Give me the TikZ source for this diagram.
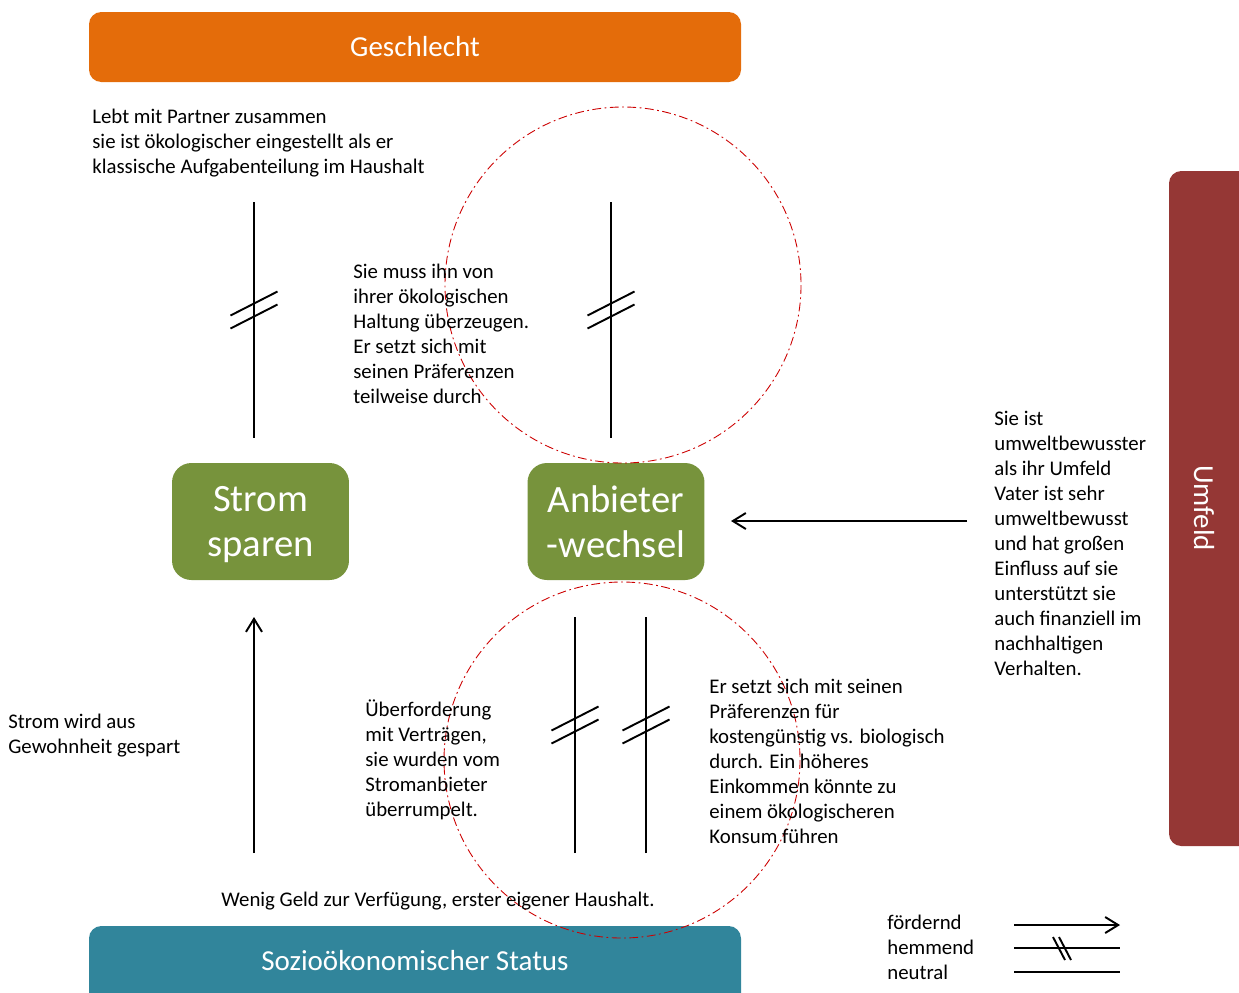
\documentclass[tikz,border=0pt]{standalone}
\usepackage{fontspec}
\setmainfont{Carlito}
\usetikzlibrary{arrows.meta}
\definecolor{cOrange}{RGB}{228,108,10}
\definecolor{cGreen}{RGB}{119,147,60}
\definecolor{cTeal}{RGB}{49,133,155}
\definecolor{cRed}{RGB}{149,55,53}
\tikzset{
	factor/.style ={rectangle, rounded corners=7pt, text=white, inner sep=0pt, font=\fontsize{16.5}{19}\selectfont},
	goal/.style   ={rectangle, rounded corners=11pt, fill=cGreen, text=white, align=center, inner sep=0pt, text depth=0pt,
	                minimum width=3.54cm, minimum height=2.34cm, font=\fontsize{22}{25.5}\selectfont},
	note/.style   ={anchor=base west, align=left, inner sep=0pt, font=\fontsize{11.85}{14.2}\selectfont},
	weg/.style    ={line width=1.1pt},
	foerd/.style  ={weg, -{Straight Barb[length=2.6mm, width=3.2mm, line width=1.1pt]}},
	zone/.style   ={red!80!black, line width=0.5pt, dash pattern=on 5pt off 2pt on 1pt off 2pt},
}
% hemmend mark: two slanted strokes across a line
\newcommand{\hemm}[2]{%
	\draw[weg] ({#1-23.5},{#2+5.5}) -- ({#1+23.5},{#2-18.5});
	\draw[weg] ({#1-23.5},{#2+18.5}) -- ({#1+23.5},{#2-5.5});}
\begin{document}
\begin{tikzpicture}[x=0.02cm, y=-0.02cm]
	\clip (0,0) rectangle (1239,992);
	% ---------- factor boxes ----------
	\fill[cOrange, rounded corners=7pt] (89,12) rectangle (741,82);
	\node[factor] (geschlecht) at (415,47) {Geschlecht};
	\fill[cTeal, rounded corners=7pt] (89,926) rectangle (741,1010);
	\node[factor] (status) at (415,961) {Sozioökonomischer Status};
	\fill[cRed, rounded corners=7pt] (1169,171) rectangle (1260,846);
	\node[factor, rotate=-90] (umfeld) at (1204,508) {Umfeld};
	% ---------- goals ----------
	\node[goal] (strom) at (260.5,521.5) {Strom\\sparen};
	\node[goal] (anbieter) at (616,521.5) {Anbieter\\-wechsel};
	% ---------- zones ----------
	\draw[zone] (623,285) circle (178);
	\draw[zone] (622,760) circle (178);
	% ---------- connectors ----------
	\coordinate (sTa) at (254,202);  \coordinate (sTb) at (254,438);
	\coordinate (aTa) at (611,202);  \coordinate (aTb) at (611,438);
	\coordinate (sBa) at (254,853);  \coordinate (sBb) at (254,617);
	\coordinate (aBa) at (575,853);  \coordinate (aBb) at (575,617);
	\coordinate (aCa) at (646,853);  \coordinate (aCb) at (646,617);
	\coordinate (uA)  at (967,521);  \coordinate (uB)  at (731,521);
	\draw[weg] (sTa) -- (sTb);  \hemm{254}{310}
	\draw[weg] (aTa) -- (aTb);  \hemm{611}{310}
	\draw[foerd] (sBa) -- (sBb);
	\draw[weg] (aBa) -- (aBb);  \hemm{575}{725}
	\draw[weg] (aCa) -- (aCb);  \hemm{646}{725}
	\draw[foerd] (uA) -- (uB);
	% ---------- notes (anchored at the last line) ----------
	\node[note] (nGesch) at (92,173) {Lebt mit Partner zusammen\\sie ist ökologischer eingestellt als er\\klassische Aufgabenteilung im Haushalt};
	\node[note] (nSie) at (353,403) {Sie muss ihn von\\ihrer ökologischen\\Haltung überzeugen.\\Er setzt sich mit\\seinen Präferenzen\\teilweise durch};
	\node[note] (nUmf) at (994,675) {Sie ist\\umweltbewusster\\als ihr Umfeld\\Vater ist sehr\\umweltbewusst\\und hat großen\\Einfluss auf sie\\unterstützt sie\\auch finanziell im\\nachhaltigen\\Verhalten.};
	\node[note] (nGew) at (8,753) {Strom wird aus\\Gewohnheit gespart};
	\node[note] (nUeb) at (365,816) {Überforderung\\mit Verträgen,\\sie wurden vom\\Stromanbieter\\überrumpelt.};
	\node[note] (nEr) at (709,843) {Er setzt sich mit seinen\\Präferenzen für\\kostengünstig vs. biologisch\\durch. Ein höheres\\Einkommen könnte zu\\einem ökologischeren\\Konsum führen};
	\node[note] (nGeld) at (221,906) {Wenig Geld zur Verfügung, erster eigener Haushalt.};
	% ---------- legend ----------
	\node[note] (legend) at (887,979) {fördernd\\hemmend\\neutral};
	\coordinate (l1a) at (1014,925);  \coordinate (l1b) at (1120,925);
	\coordinate (l2a) at (1014,948);  \coordinate (l2b) at (1120,948);
	\coordinate (l3a) at (1014,972);  \coordinate (l3b) at (1120,972);
	\draw[foerd] (l1a) -- (l1b);
	\draw[weg] (l2a) -- (l2b);
	\draw[weg] (1053,937) -- (1065,960);
	\draw[weg] (1059,937) -- (1071,960);
	\draw[weg] (l3a) -- (l3b);
\end{tikzpicture}
\end{document}
